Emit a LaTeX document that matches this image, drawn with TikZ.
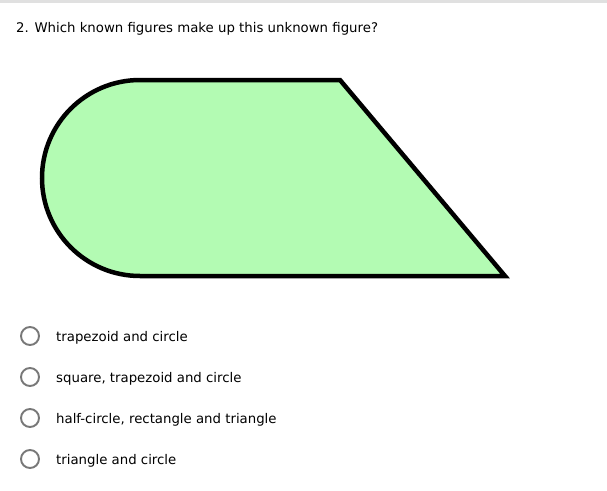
\documentclass[tikz,border=0pt]{standalone}
\usepackage{fontspec}
\setmainfont{DejaVu Sans}
\usetikzlibrary{positioning}
\definecolor{shapegreen}{RGB}{179,251,179}
\definecolor{radiogray}{RGB}{120,120,120}
\tikzset{
  radio/.style={circle, draw=radiogray, line width=1.9pt, minimum size=18pt, inner sep=0pt},
  answer/.style={anchor=west, inner sep=0pt, font=\fontsize{13.3pt}{15pt}\selectfont},
}
\begin{document}
\begin{tikzpicture}[x=1pt, y=-1pt]
		%%%%% FRAME %%%%%
		\useasboundingbox (0, 0) rectangle (607, 490);
		\fill[black!12] (0, 0) rectangle (607, 2.5);
		
		%%%%% QUESTION %%%%%
		\node[anchor=west, inner sep=0pt, font=\fontsize{13.3pt}{15pt}\selectfont] (question) at (16, 28.5) {2. Which known figures make up this unknown figure?};
		
		%%%%% FIGURE %%%%%
		\draw[line width=4.5pt, fill=shapegreen, line join=miter] (340, 80) -- (140, 80) arc (270:90:98) -- (505, 276) -- cycle;
		
		%%%%% ANSWERS %%%%%
		\node[radio] (r1) at (30, 336) {};
		\node[radio] (r2) at (30, 377) {};
		\node[radio] (r3) at (30, 418) {};
		\node[radio] (r4) at (30, 459) {};
		
		\node[answer] (a1) at (56, 337.5) {trapezoid and circle};
		\node[answer] (a2) at (56, 378.5) {square, trapezoid and circle};
		\node[answer] (a3) at (56, 419.5) {half-circle, rectangle and triangle};
		\node[answer] (a4) at (56, 460.5) {triangle and circle};
		
	\end{tikzpicture}
\end{document}
